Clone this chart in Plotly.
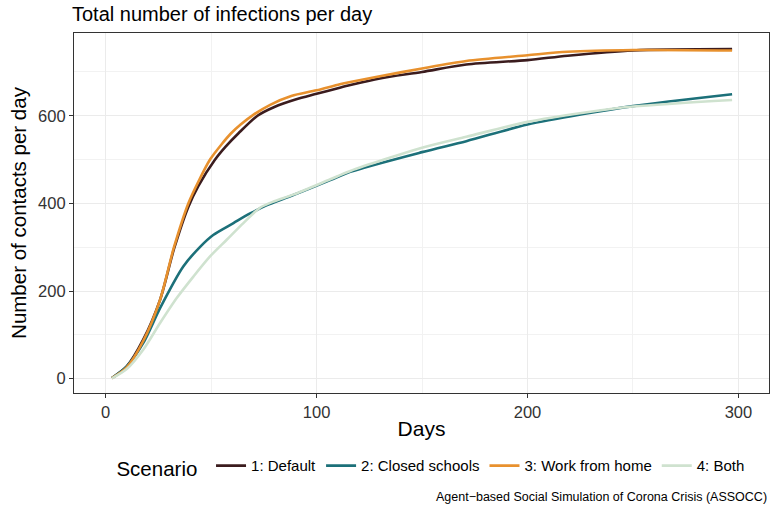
import plotly.graph_objects as go

# ---- data ----
scenarios = ["1: Default", "2: Closed schools", "3: Work from home", "4: Both"]
colors = ["#3B1C1E", "#1C7079", "#E8912E", "#CFE2CF"]

default_days = [3, 10, 17.8, 25.8, 32.4, 39.2, 44, 51.9, 57, 63, 72, 80, 90, 100, 111, 116, 130, 150, 171, 200, 219, 250, 297]
default_vals = [1.5, 28, 89, 180, 296, 392, 440, 500, 530, 560, 600, 620, 637, 650, 664, 670, 685, 700, 717, 727, 737, 749, 752]

closed_days = [3, 10, 17.8, 25.8, 36.8, 44.8, 51, 60.6, 68.5, 76, 89, 106.5, 116, 150, 171, 200, 226.5, 250, 297]
closed_vals = [1.5, 28, 81, 161, 256, 301, 328, 355, 377, 395, 419, 453, 472, 517, 542, 580, 604, 622, 649]

wfh_days = [3, 10, 17.8, 25.8, 32.4, 39.2, 44, 49.5, 55, 59.5, 64, 70, 78, 88, 100, 111, 116, 130, 150, 171, 200, 219, 250, 297]
wfh_vals = [1.5, 26, 86, 180, 300, 400, 450, 500, 535, 560, 580, 602, 625, 645, 658, 672, 677, 690, 708, 725, 738, 746, 750, 749]

both_days = [3, 10, 17.8, 25.8, 33.7, 41.6, 49.5, 57.4, 65.3, 73.2, 80, 89, 106.5, 116, 150, 171, 200, 226.5, 250, 297]
both_vals = [1, 22, 66, 127, 184, 233, 279, 317, 355, 390, 405, 420, 455, 474, 527, 552, 586, 607, 621, 636]

series = [(default_days, default_vals), (closed_days, closed_vals), (wfh_days, wfh_vals), (both_days, both_vals)]

x_ticks = [0, 100, 200, 300]
y_ticks = [0, 200, 400, 600]

title_text = "Total number of infections per day"
x_title = "Days"
y_title = "Number of contacts per day"
legend_title = "Scenario"
caption = "Agent\u2212based Social Simulation of Corona Crisis (ASSOCC)"

fig = go.Figure()
for name, col, (dx, dy) in zip(scenarios, colors, series):
    fig.add_trace(go.Scatter(x=dx, y=dy, mode="lines", name=name,
                             line=dict(color=col, width=2.6, shape="spline", smoothing=0.8)))

font = "Liberation Sans, Arial, sans-serif"
axis_common = dict(
    showgrid=True, gridcolor="#EBEBEB", gridwidth=1.1,
    showline=True, linecolor="#333333", linewidth=1.2, mirror=True,
    ticks="outside", ticklen=4, tickcolor="#333333", tickwidth=1,
    tickfont=dict(size=16.5, color="#333333", family=font),
    zeroline=False, automargin=False,
)

fig.update_layout(
    width=770, height=506,
    margin=dict(l=74, r=1, t=33, b=113, autoexpand=False),
    paper_bgcolor="white", plot_bgcolor="white",
    font=dict(family=font, color="#000000"),
    title=dict(text=title_text, x=72 / 770, xanchor="left", y=1 - 14 / 506, yanchor="middle",
               font=dict(size=20, color="#000000")),
    xaxis=dict(range=[-15, 314.5], tickvals=x_ticks,
               minor=dict(showgrid=True, dtick=50, tick0=0, gridcolor="#F2F2F2", gridwidth=0.6),
               title=dict(text=x_title, font=dict(size=21, color="#000000"), standoff=1),
               **axis_common),
    yaxis=dict(range=[-32.6, 788.8], tickvals=y_ticks,
               minor=dict(showgrid=True, dtick=100, tick0=0, gridcolor="#F2F2F2", gridwidth=0.6),
               title=dict(text=y_title, font=dict(size=20.5, color="#000000"), standoff=5),
               **axis_common),
    legend=dict(orientation="h", x=0.515, xanchor="center", y=-0.208, yanchor="middle",
                title=dict(text=legend_title + " ", font=dict(size=20.5, color="#000000"), side="left"),
                font=dict(size=15, color="#000000"), itemwidth=30, tracegroupgap=0,
                bgcolor="rgba(0,0,0,0)"),
    showlegend=True,
)

fig.add_annotation(text=caption, xref="paper", yref="paper", x=1, xanchor="right",
                   y=-0.289, yanchor="middle", showarrow=False,
                   font=dict(size=12.5, color="#000000", family=font))

fig.write_html("out.html", config={"displayModeBar": False},
               post_script="document.body.style.margin='0';document.body.style.overflow='hidden';")
